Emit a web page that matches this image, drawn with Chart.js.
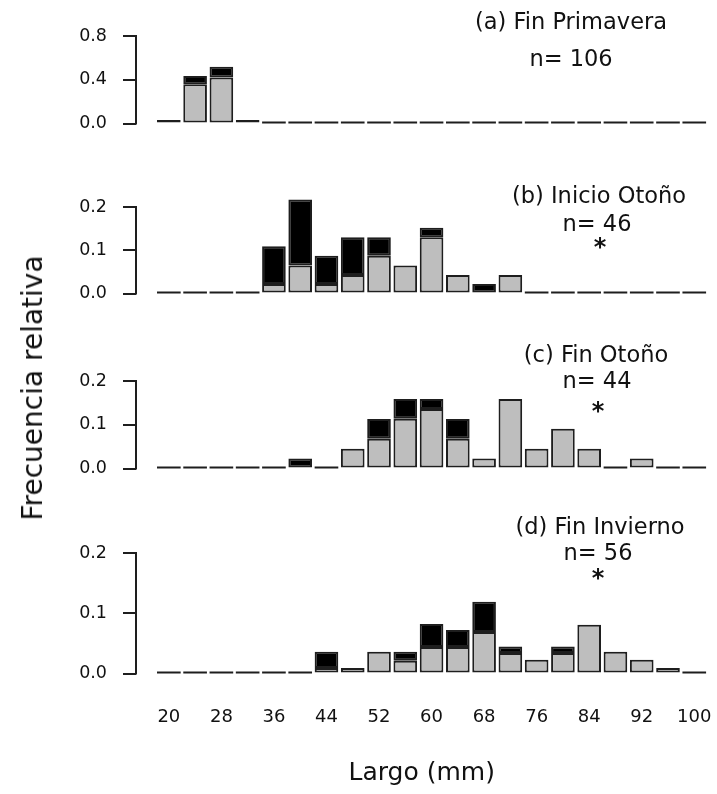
<!DOCTYPE html>
<html>
<head>
<meta charset="utf-8">
<script src="https://cdn.jsdelivr.net/npm/chart.js@4.4.0/dist/chart.umd.min.js"></script>
<style>
  body { margin: 0; background: #fff; }
  #wrap { position: relative; width: 717px; height: 794px; overflow: hidden; font-family: 'DejaVu Sans', sans-serif; color: #111; }
  canvas { position: absolute; left: 0; }
  .lbl { position: absolute; transform: translate(-50%, -50%); white-space: nowrap; font-size: 22.5px; line-height: 1; }
  .star { position: absolute; transform: translate(-50%, -50%); font-size: 24px; line-height: 1; font-weight: bold; }
  #ytitle { position: absolute; left: 33px; top: 388px; transform: translate(-50%, -50%) rotate(-90deg); font-size: 28px; white-space: nowrap; line-height: 1; }
</style>
</head>
<body>
<div id="wrap">
  <canvas id="panelA" width="717" height="150" style="top:0px"></canvas>
  <canvas id="panelB" width="717" height="160" style="top:160px"></canvas>
  <canvas id="panelC" width="717" height="165" style="top:330px"></canvas>
  <canvas id="panelD" width="717" height="284" style="top:510px"></canvas>

  <div class="lbl" style="left:571px; top:21px">(a) Fin Primavera</div>
  <div class="lbl" style="left:571px; top:58px">n= 106</div>
  <div class="lbl" style="left:599px; top:195px">(b) Inicio Otoño</div>
  <div class="lbl" style="left:597px; top:223px">n= 46</div>
  <div class="star" style="left:600px; top:247px">*</div>
  <div class="lbl" style="left:596px; top:354px">(c) Fin Otoño</div>
  <div class="lbl" style="left:597px; top:380px">n= 44</div>
  <div class="star" style="left:598px; top:411px">*</div>
  <div class="lbl" style="left:600px; top:526px">(d) Fin Invierno</div>
  <div class="lbl" style="left:598px; top:552px">n= 56</div>
  <div class="star" style="left:598px; top:578px">*</div>
  <div id="ytitle">Frecuencia relativa</div>
</div>
<script>
// length classes (mm), one bar per class
const bins = [20, 24, 28, 32, 36, 40, 44, 48, 52, 56, 60, 64, 68, 72, 76, 80, 84, 88, 92, 96, 100];
const xTickLabels = [20, 28, 36, 44, 52, 60, 68, 76, 84, 92, 100];

// (a) Fin Primavera
const grayA  = [0.033, 0.36, 0.42, 0, 0, 0, 0, 0, 0, 0, 0, 0, 0, 0, 0, 0, 0, 0, 0, 0, 0];
const blackA = [0, 0.075, 0.10, 0.033, 0, 0, 0, 0, 0, 0, 0, 0, 0, 0, 0, 0, 0, 0, 0, 0, 0];
// (b) Inicio Otoño
const grayB  = [0, 0, 0, 0, 0.022, 0.065, 0.022, 0.043, 0.087, 0.065, 0.13, 0.043, 0, 0.043, 0, 0, 0, 0, 0, 0, 0];
const blackB = [0, 0, 0, 0, 0.087, 0.152, 0.065, 0.087, 0.043, 0, 0.022, 0, 0.022, 0, 0, 0, 0, 0, 0, 0, 0];
// (c) Fin Otoño
const grayC  = [0, 0, 0, 0, 0, 0, 0, 0.045, 0.068, 0.114, 0.136, 0.068, 0.023, 0.159, 0.045, 0.091, 0.045, 0, 0.023, 0, 0];
const blackC = [0, 0, 0, 0, 0, 0.023, 0, 0, 0.045, 0.045, 0.023, 0.045, 0, 0, 0, 0, 0, 0, 0, 0, 0];
// (d) Fin Invierno
const grayD  = [0, 0, 0, 0, 0, 0, 0.009, 0.009, 0.036, 0.021, 0.044, 0.044, 0.069, 0.034, 0.023, 0.034, 0.081, 0.036, 0.023, 0.009, 0];
const blackD = [0, 0, 0, 0, 0, 0, 0.027, 0, 0, 0.015, 0.038, 0.028, 0.05, 0.011, 0, 0.011, 0, 0, 0, 0, 0];

const ticksA = [0, 0.4, 0.8];
const ticksBCD = [0, 0.1, 0.2];

const ink = '#1e1e1e';
const fontFamily = "'DejaVu Sans', sans-serif";

// R-style axis line (only between first and last tick) + zero-height bins drawn as dashes
const rAxisPlugin = {
    id: 'rAxis',
    afterDatasetsDraw(chart) {
        const ctx = chart.ctx;
        const y = chart.scales.y;
        const ticks = y.ticks;
        ctx.save();
        ctx.strokeStyle = ink;
        ctx.lineWidth = 2;
        ctx.beginPath();
        ctx.moveTo(y.right, y.getPixelForValue(ticks[0].value) + 1);
        ctx.lineTo(y.right, y.getPixelForValue(ticks[ticks.length - 1].value) - 1);
        ctx.stroke();

        const g = chart.data.datasets[0].data;
        const b = chart.data.datasets[1].data;
        const meta = chart.getDatasetMeta(0);
        const base = y.getPixelForValue(0);
        ctx.beginPath();
        meta.data.forEach((el, i) => {
            if (g[i].y === 0 && b[i].y === 0) {
                ctx.moveTo(el.x - el.width / 2, base - 1);
                ctx.lineTo(el.x + el.width / 2, base - 1);
            }
        });
        ctx.stroke();
        ctx.restore();
    }
};

function makePanel(id, gray, black, yMax, yTicks, padTop, padBottom, showX) {
    const barStyle = {
        borderColor: ink,
        borderWidth: 2,
        borderSkipped: false,
        categoryPercentage: 1,
        barPercentage: 0.9
    };
    return new Chart(document.getElementById(id), {
        type: 'bar',
        data: {
            datasets: [
                Object.assign({ data: bins.map((x, i) => ({ x: x, y: gray[i] })), backgroundColor: '#bebebe' }, barStyle),
                Object.assign({ data: bins.map((x, i) => ({ x: x, y: black[i] })), backgroundColor: '#000000' }, barStyle)
            ]
        },
        options: {
            responsive: false,
            animation: false,
            layout: { padding: { top: padTop, bottom: padBottom, left: 0, right: 9.6 } },
            plugins: { legend: { display: false }, tooltip: { enabled: false } },
            scales: {
                x: {
                    type: 'linear',
                    min: 15,
                    max: 102,
                    offset: false,
                    stacked: true,
                    display: showX,
                    grid: { display: false, offset: false },
                    border: { display: false },
                    afterBuildTicks: s => { s.ticks = xTickLabels.map(v => ({ value: v })); },
                    afterFit: s => { s.paddingLeft = 0; s.paddingRight = 0; },
                    ticks: {
                        padding: 25,
                        color: '#111',
                        font: { family: fontFamily, size: 18 },
                        maxRotation: 0,
                        autoSkip: false,
                        callback: v => String(v)
                    },
                    title: {
                        display: true,
                        text: 'Largo (mm)',
                        color: '#111',
                        font: { family: fontFamily, size: 25 },
                        padding: { top: 32, bottom: 6 }
                    }
                },
                y: {
                    stacked: true,
                    min: 0,
                    max: yMax,
                    afterFit: s => { s.width = 136; },
                    afterBuildTicks: s => { s.ticks = yTicks.map(v => ({ value: v })); },
                    grid: { drawOnChartArea: false, drawTicks: true, tickLength: 13, color: ink, lineWidth: 2 },
                    border: { display: false },
                    ticks: {
                        padding: 16,
                        color: '#111',
                        font: { family: fontFamily, size: 17.5 },
                        callback: v => v.toFixed(1)
                    }
                }
            }
        },
        plugins: [rAxisPlugin]
    });
}

makePanel('panelA', grayA, blackA, 0.8, ticksA, 36, 18, false);
makePanel('panelB', grayB, blackB, 0.23, ticksBCD, 34, 16, false);
makePanel('panelC', grayC, blackC, 0.2, ticksBCD, 51, 17, false);
makePanel('panelD', grayD, blackD, 0.2, ticksBCD, 43, 0, true);
</script>
</body>
</html>
